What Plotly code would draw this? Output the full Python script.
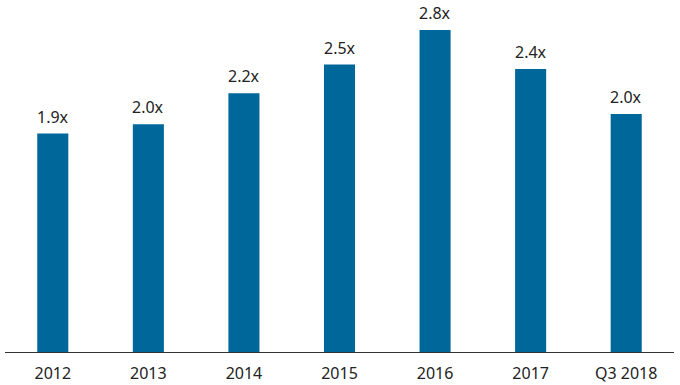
import plotly.graph_objects as go

categories = ["2012", "2013", "2014", "2015", "2016", "2017", "Q3 2018"]
values = [1.90, 1.98, 2.25, 2.50, 2.80, 2.46, 2.07]
labels = ["1.9x", "2.0x", "2.2x", "2.5x", "2.8x", "2.4x", "2.0x"]

fig = go.Figure(go.Bar(
    x=categories, y=values,
    marker=dict(color="#00679A", line=dict(width=0)),
    cliponaxis=False,
    hoverinfo="skip",
))
for i, (v, l) in enumerate(zip(values, labels)):
    fig.add_annotation(x=i, y=v, text=l, showarrow=False, yanchor="bottom",
                       yshift=4, font=dict(family="Noto Sans", size=16, color="#222222"))
fig.update_layout(
    width=680, height=385,
    margin=dict(l=5, r=6, t=20, b=33),
    paper_bgcolor="white", plot_bgcolor="white",
    bargap=0.675,
    showlegend=False,
    font=dict(family="Noto Sans", size=16, color="#222222"),
)
fig.update_xaxes(type="category", showline=True, linecolor="#333333", linewidth=1, ticks="",
                 showgrid=False, automargin=False, ticklabelstandoff=7,
                 tickfont=dict(size=16, color="#222222"))
fig.update_yaxes(visible=False, range=[0, 332/115], showgrid=False, zeroline=False,
                 automargin=False)
fig.write_html("out.html",
               config={"displayModeBar": False},
               post_script="document.body.style.margin='0';document.body.style.overflow='hidden';")
